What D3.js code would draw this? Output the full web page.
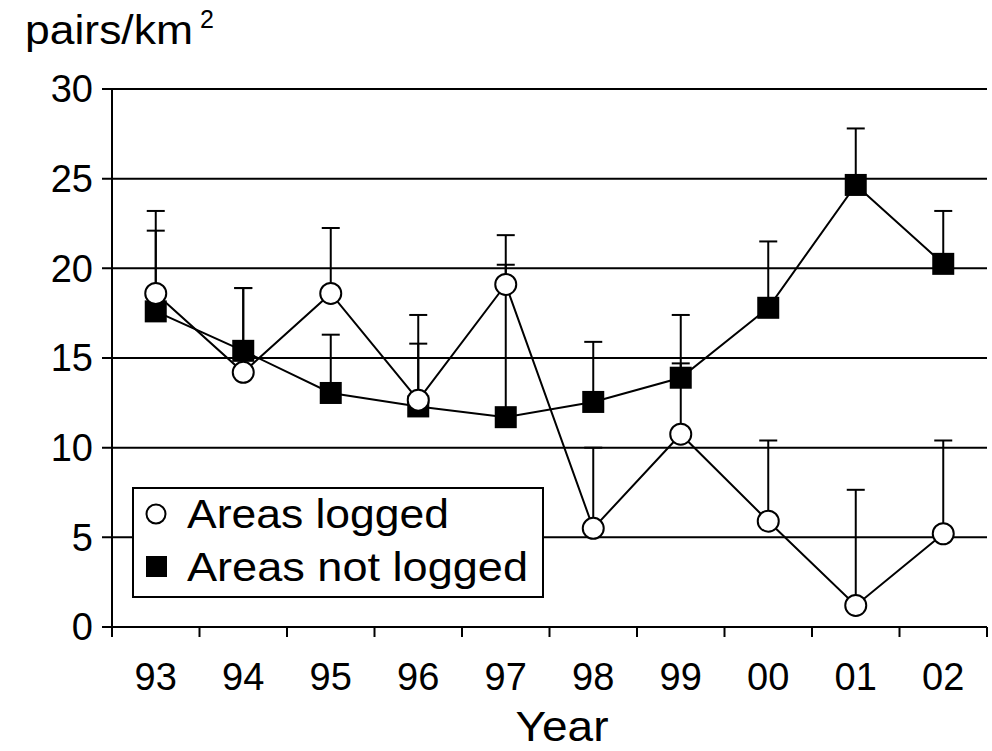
<!DOCTYPE html>
<html>
<head>
<meta charset="utf-8">
<script src="https://cdn.jsdelivr.net/npm/d3@7"></script>
<style>
  body { margin: 0; background: #fff; }
  svg { display: block; font-family: "Liberation Sans", Arial, sans-serif; }
</style>
</head>
<body>
<div id="chart"></div>
<script>
const years = ["93", "94", "95", "96", "97", "98", "99", "00", "01", "02"];
// Areas logged (open circles): mean and upper error bar end
const loggedMean = [18.6, 14.2, 18.6, 12.65, 19.1, 5.5, 10.75, 5.9, 1.2, 5.2];
const loggedTop  = [23.2, 18.9, 22.25, 17.4, 21.85, 10.0, 14.7, 10.4, 7.65, 10.4];
// Areas not logged (filled squares)
const notLoggedMean = [17.6, 15.4, 13.05, 12.3, 11.7, 12.55, 13.9, 17.8, 24.65, 20.25];
const notLoggedTop  = [22.1, 18.9, 16.3, 15.8, 20.2, 15.9, 17.4, 21.5, 27.8, 23.2];
const yTicks = [0, 5, 10, 15, 20, 25, 30];
const legendLabels = ["Areas logged", "Areas not logged"];

const W = 992, H = 751;
const margin = {top: 89, right: 5, bottom: 124, left: 112};

const svg = d3.select('#chart').append('svg')
  .attr('width', W)
  .attr('height', H);

const x = d3.scaleBand()
  .domain(years)
  .range([margin.left, 987]);

const y = d3.scaleLinear()
  .domain([0, 30])
  .range([H - margin.bottom, margin.top]);

// horizontal gridlines, extending left as ticks
svg.append('g')
  .selectAll('line')
  .data(yTicks)
  .join('line')
  .attr('x1', margin.left - 10)
  .attr('x2', 987)
  .attr('y1', d => y(d))
  .attr('y2', d => y(d))
  .attr('stroke', '#000')
  .attr('stroke-width', 2);

svg.append('g')
  .selectAll('text')
  .data(yTicks)
  .join('text')
  .attr('x', 93)
  .attr('y', d => y(d))
  .attr('dy', '0.35em')
  .attr('text-anchor', 'end')
  .attr('font-size', 38)
  .text(d => d);

// y axis line
svg.append('line')
  .attr('x1', margin.left).attr('x2', margin.left)
  .attr('y1', y(30)).attr('y2', y(0) + 10)
  .attr('stroke', '#000').attr('stroke-width', 2);

// x ticks sit on the band boundaries
const xBounds = years.map(d => x(d)).concat([x(years[years.length - 1]) + x.bandwidth()]);
svg.append('g')
  .selectAll('line')
  .data(xBounds)
  .join('line')
  .attr('x1', d => d).attr('x2', d => d)
  .attr('y1', y(0)).attr('y2', y(0) + 10)
  .attr('stroke', '#000').attr('stroke-width', 2);

svg.append('g')
  .selectAll('text')
  .data(years)
  .join('text')
  .attr('x', d => x(d) + x.bandwidth() / 2)
  .attr('y', 690)
  .attr('text-anchor', 'middle')
  .attr('font-size', 38)
  .text(d => d);

svg.append('text')
  .attr('x', 562)
  .attr('y', 741)
  .attr('text-anchor', 'middle')
  .attr('font-size', 43)
  .attr('textLength', 93)
  .attr('lengthAdjust', 'spacingAndGlyphs')
  .text('Year');

svg.append('text')
  .attr('x', 25)
  .attr('y', 44)
  .attr('font-size', 41)
  .attr('textLength', 168)
  .attr('lengthAdjust', 'spacingAndGlyphs')
  .text('pairs/km');
svg.append('text')
  .attr('x', 200)
  .attr('y', 28)
  .attr('font-size', 25)
  .text('2');

const cx = i => x(years[i]) + x.bandwidth() / 2;
const line = d3.line().x((d, i) => cx(i)).y(d => y(d));

function errorBars(means, tops) {
  const g = svg.append('g').attr('stroke', '#000').attr('stroke-width', 2);
  g.selectAll('line.v')
    .data(means)
    .join('line')
    .attr('class', 'v')
    .attr('x1', (d, i) => cx(i)).attr('x2', (d, i) => cx(i))
    .attr('y1', d => y(d))
    .attr('y2', (d, i) => y(tops[i]));
  g.selectAll('line.cap')
    .data(tops)
    .join('line')
    .attr('class', 'cap')
    .attr('x1', (d, i) => cx(i) - 9).attr('x2', (d, i) => cx(i) + 9)
    .attr('y1', d => y(d)).attr('y2', d => y(d));
}

errorBars(notLoggedMean, notLoggedTop);
errorBars(loggedMean, loggedTop);

svg.append('path')
  .datum(notLoggedMean)
  .attr('d', line)
  .attr('fill', 'none')
  .attr('stroke', '#000')
  .attr('stroke-width', 2);

svg.append('path')
  .datum(loggedMean)
  .attr('d', line)
  .attr('fill', 'none')
  .attr('stroke', '#000')
  .attr('stroke-width', 2);

svg.append('g')
  .selectAll('rect')
  .data(notLoggedMean)
  .join('rect')
  .attr('x', (d, i) => cx(i) - 11)
  .attr('y', d => y(d) - 11)
  .attr('width', 22)
  .attr('height', 22)
  .attr('fill', '#000');

svg.append('g')
  .selectAll('circle')
  .data(loggedMean)
  .join('circle')
  .attr('cx', (d, i) => cx(i))
  .attr('cy', d => y(d))
  .attr('r', 10.5)
  .attr('fill', '#fff')
  .attr('stroke', '#000')
  .attr('stroke-width', 2);

// legend
const lg = svg.append('g');
lg.append('rect')
  .attr('x', 133).attr('y', 488)
  .attr('width', 410).attr('height', 109)
  .attr('fill', '#fff')
  .attr('stroke', '#000')
  .attr('stroke-width', 2);
lg.append('circle')
  .attr('cx', 156).attr('cy', 514).attr('r', 9.5)
  .attr('fill', '#fff').attr('stroke', '#000').attr('stroke-width', 2);
lg.append('rect')
  .attr('x', 146).attr('y', 556).attr('width', 21).attr('height', 21)
  .attr('fill', '#000');
lg.selectAll('text')
  .data(legendLabels)
  .join('text')
  .attr('x', 187)
  .attr('y', (d, i) => 528 + i * 53)
  .attr('font-size', 40)
  .attr('textLength', (d, i) => i === 0 ? 262 : 341)
  .attr('lengthAdjust', 'spacingAndGlyphs')
  .text(d => d);
</script>
</body>
</html>
